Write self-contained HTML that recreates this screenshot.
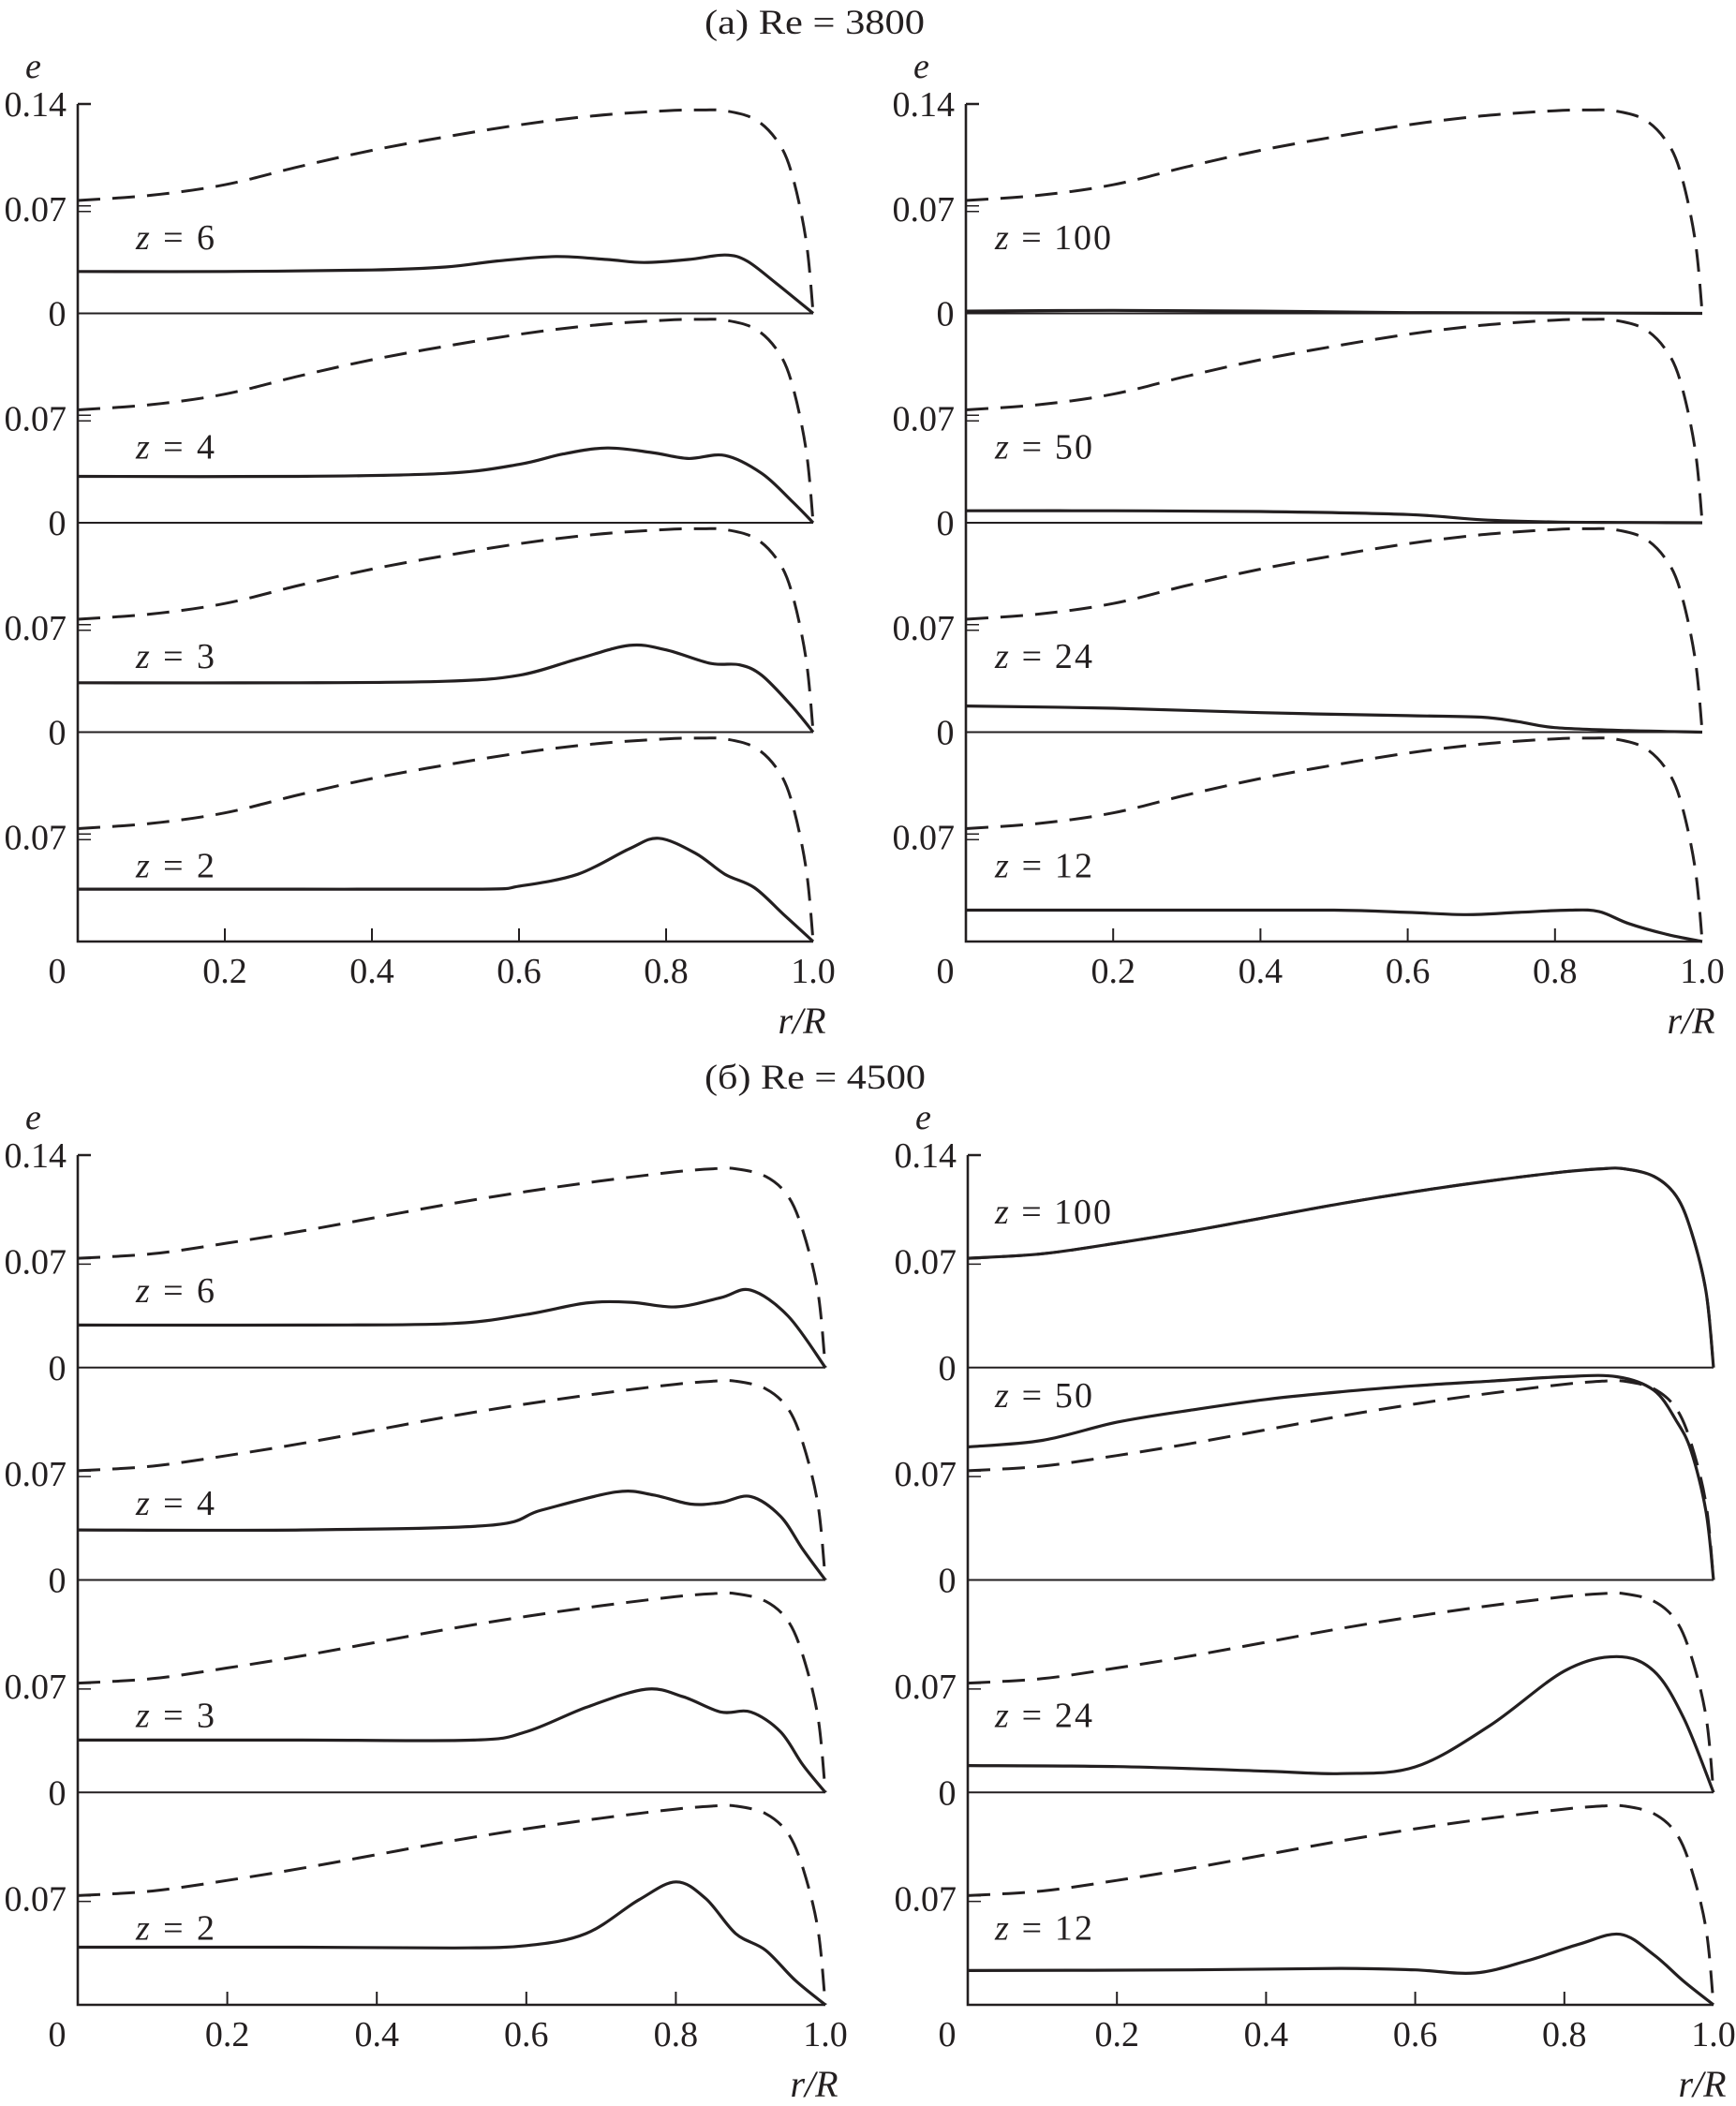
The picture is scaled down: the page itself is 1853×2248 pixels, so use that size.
<!DOCTYPE html>
<html><head><meta charset="utf-8">
<style>
html,body{margin:0;padding:0;background:#fff;}
svg{display:block;}
text{font-family:"Liberation Serif",serif;fill:#231f20;}
</style></head>
<body>
<svg id="chart" width="1853" height="2248" viewBox="0 0 1853 2248" xmlns="http://www.w3.org/2000/svg">
<text x="752" y="36" font-size="37" textLength="235" lengthAdjust="spacingAndGlyphs">(a) Re = 3800</text>
<text x="752" y="1162" font-size="37" textLength="236" lengthAdjust="spacingAndGlyphs">(б) Re = 4500</text>
</svg>
<script>
// dashed reference profile grid
const rGrid = [0,0.1,0.2,0.3,0.4,0.5,0.6,0.7,0.8,0.85,0.88,0.92,0.95,0.97,0.99,1.0];
const dashA = [0.0755,0.079,0.086,0.098,0.109,0.118,0.126,0.132,0.1355,0.136,0.1355,0.130,0.116,0.095,0.05,0];
const dashB = [0.072,0.075,0.082,0.090,0.099,0.108,0.116,0.123,0.129,0.131,0.131,0.126,0.113,0.09,0.05,0];
// solid profiles: r and e arrays
const rA6 = [0,0.2,0.4,0.5,0.57,0.65,0.72,0.77,0.83,0.88,0.91,0.95,1.0];
const eA6 = [0.028,0.028,0.029,0.031,0.035,0.038,0.036,0.034,0.036,0.039,0.035,0.020,0];
const rA4 = [0,0.3,0.5,0.6,0.66,0.72,0.78,0.83,0.88,0.93,0.97,1.0];
const eA4 = [0.031,0.031,0.033,0.039,0.046,0.050,0.047,0.043,0.045,0.033,0.015,0];
const rA3 = [0,0.3,0.5,0.6,0.68,0.75,0.8,0.86,0.9,0.93,0.97,1.0];
const eA3 = [0.033,0.033,0.034,0.038,0.049,0.058,0.055,0.046,0.045,0.038,0.018,0];
const rA2 = [0,0.3,0.55,0.6,0.68,0.75,0.79,0.84,0.88,0.92,0.96,1.0];
const eA2 = [0.035,0.035,0.035,0.037,0.045,0.062,0.069,0.059,0.045,0.036,0.018,0];
const rA100 = [0,0.2,0.4,0.6,0.8,1.0];
const eA100 = [0.0015,0.002,0.0015,0.0005,0.0003,0];
const rA50 = [0,0.2,0.4,0.6,0.7,0.8,0.9,1.0];
const eA50 = [0.008,0.008,0.0075,0.0055,0.002,0.0005,0.0002,0];
const rA24 = [0,0.2,0.4,0.6,0.7,0.75,0.8,0.9,1.0];
const eA24 = [0.0175,0.016,0.013,0.011,0.010,0.007,0.003,0.001,0];
const rA12 = [0,0.3,0.5,0.6,0.68,0.75,0.82,0.86,0.9,0.95,1.0];
const eA12 = [0.021,0.021,0.021,0.0195,0.018,0.0195,0.021,0.020,0.012,0.005,0];
const rB6 = [0,0.3,0.5,0.6,0.68,0.74,0.8,0.86,0.9,0.95,1.0];
const eB6 = [0.028,0.028,0.029,0.035,0.0425,0.043,0.040,0.046,0.051,0.034,0];
const rB4 = [0,0.3,0.55,0.62,0.72,0.77,0.82,0.86,0.9,0.94,0.97,1.0];
const eB4 = [0.033,0.033,0.036,0.046,0.058,0.056,0.050,0.051,0.055,0.042,0.02,0];
const rB3 = [0,0.3,0.53,0.6,0.68,0.76,0.81,0.86,0.9,0.94,0.97,1.0];
const eB3 = [0.0345,0.0345,0.0345,0.040,0.056,0.068,0.063,0.053,0.053,0.040,0.018,0];
const rB2 = [0,0.3,0.5,0.6,0.68,0.75,0.8,0.84,0.88,0.92,0.96,1.0];
const eB2 = [0.038,0.038,0.0375,0.039,0.047,0.069,0.081,0.070,0.047,0.036,0.016,0];
const rB100 = rGrid;
const eB100 = dashB;
const rB50 = [0,0.1,0.2,0.3,0.4,0.5,0.6,0.7,0.8,0.87,0.92,0.95,0.97,0.99,1.0];
const eB50 = [0.0877,0.092,0.104,0.112,0.119,0.124,0.128,0.131,0.134,0.134,0.125,0.105,0.085,0.045,0];
const rB24 = [0,0.2,0.4,0.5,0.6,0.7,0.8,0.87,0.92,0.96,1.0];
const eB24 = [0.0177,0.017,0.014,0.0124,0.0168,0.044,0.080,0.0895,0.080,0.049,0];
const rB12 = [0,0.3,0.5,0.6,0.68,0.75,0.82,0.875,0.92,0.96,1.0];
const eB12 = [0.0226,0.023,0.024,0.023,0.021,0.029,0.040,0.0465,0.033,0.0155,0];
const xTicks = [0.2,0.4,0.6,0.8];
const xTickLabels = ["0","0.2","0.4","0.6","0.8","1.0"];

const NS="http://www.w3.org/2000/svg";
const svg=document.getElementById('chart');
function mk(tag,attrs,parent){const e=document.createElementNS(NS,tag);for(const k in attrs)e.setAttribute(k,attrs[k]);(parent||svg).appendChild(e);return e;}
function smooth(pts){let d=`M${pts[0][0].toFixed(1)},${pts[0][1].toFixed(1)}`;
 for(let i=0;i<pts.length-1;i++){const p0=pts[i-1]||pts[i],p1=pts[i],p2=pts[i+1],p3=pts[i+2]||p2;
  const c1=[p1[0]+(p2[0]-p0[0])/6,p1[1]+(p2[1]-p0[1])/6],c2=[p2[0]-(p3[0]-p1[0])/6,p2[1]-(p3[1]-p1[1])/6];
  d+=`C${c1[0].toFixed(1)},${c1[1].toFixed(1)} ${c2[0].toFixed(1)},${c2[1].toFixed(1)} ${p2[0].toFixed(1)},${p2[1].toFixed(1)}`;}
 return d;}
const FS=38;
function block(x0,x1,top,bottom,dash,panels,zx,lab){
 const ph=(bottom-top)/4, k=ph/0.14;
 const X=r=>x0+r*(x1-x0);
 const g=mk('g',{});  
 let a=mk('path',{d:`M${x0},${top}V${bottom}H${x1}M${x0},${top}H${x0+14}`,stroke:'#231f20','stroke-width':2.6,fill:'none'},g);
  
 let t=mk('text',{x:x0-56,y:top-28,'font-size':FS,'font-style':'italic'},g); t.textContent='e';
  
 t=mk('text',{x:x0-12,y:top+13,'font-size':FS,'text-anchor':'end'},g); t.textContent='0.14';
  
 xTicks.forEach(v=>{const tk=mk('path',{d:`M${X(v)},${bottom}v-14`,stroke:'#231f20','stroke-width':2},g);
   });
 xTickLabels.forEach((s,i)=>{const v=i*0.2;const tt=mk('text',{x:i===0?x0-22:X(v),y:bottom+44,'font-size':FS,'text-anchor':'middle'},g);tt.textContent=s;
   });
 t=mk('text',{x:x1-12,y:bottom+98,'font-size':FS+2,'font-style':'italic','text-anchor':'middle'},g); t.textContent='r/R';
  
 panels.forEach((p,i)=>{
  const zero=top+ph*(i+1); const Y=e=>zero-e*k;
  if(i<3){const zl=mk('path',{d:`M${x0},${zero}H${x1}`,stroke:'#231f20','stroke-width':2},g);
    
   const zt=mk('text',{x:x0-22,y:zero+13,'font-size':FS,'text-anchor':'middle'},g); zt.textContent='0';
    }
  const tk=mk('path',{d:`M${x0},${Y(0.07)-3}h14M${x0},${Y(0.07)+3}h14`,stroke:'#231f20','stroke-width':1.6},g);
   
  const tl=mk('text',{x:x0-12,y:Y(0.07)+13,'font-size':FS,'text-anchor':'end'},g); tl.textContent='0.07';
   
  const dp=mk('path',{d:smooth(rGrid.map((r,j)=>[X(r),Y(dash[j])])),stroke:'#231f20','stroke-width':3,fill:'none','stroke-dasharray':'24 13'},g);
   
  const sp=mk('path',{d:smooth(p.r.map((r,j)=>[X(r),Y(p.e[j])])),stroke:'#231f20','stroke-width':3.2,fill:'none'},g);
   
  const ly = p.ly!==undefined ? p.ly : 0.043;
  const zl2=mk('text',{x:zx,y:Y(ly),'font-size':FS,textLength:p.z.length===1?84:(p.z.length===2?104:124),lengthAdjust:'spacing'},g);
  zl2.innerHTML='<tspan font-style="italic">z</tspan> = '+p.z;
   
 });
}
block(83,868,111,1005,dashA,[{z:'6',r:rA6,e:eA6},{z:'4',r:rA4,e:eA4},{z:'3',r:rA3,e:eA3},{z:'2',r:rA2,e:eA2}],145,'re3800-left');
block(1031,1817,111,1005,dashA,[{z:'100',r:rA100,e:eA100},{z:'50',r:rA50,e:eA50},{z:'24',r:rA24,e:eA24},{z:'12',r:rA12,e:eA12}],1062,'re3800-right');
block(83,881,1233,2140,dashB,[{z:'6',r:rB6,e:eB6},{z:'4',r:rB4,e:eB4},{z:'3',r:rB3,e:eB3},{z:'2',r:rB2,e:eB2}],145,'re4500-left');
block(1033,1829,1233,2140,dashB,[{z:'100',r:rB100,e:eB100,ly:0.095},{z:'50',r:rB50,e:eB50,ly:0.114},{z:'24',r:rB24,e:eB24},{z:'12',r:rB12,e:eB12}],1062,'re4500-right');
</script>
</body></html>
